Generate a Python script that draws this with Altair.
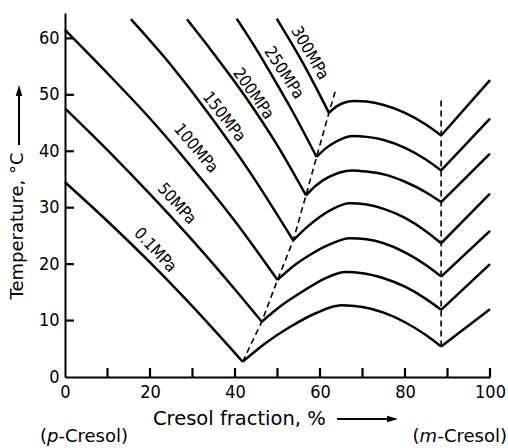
import altair as alt
import pandas as pd

labels = ["0.1MPa", "50MPa", "100MPa", "150MPa", "200MPa", "250MPa", "300MPa"]
left_x = [
    [0, 10, 20, 30, 41.8],
    [0, 10, 20, 30, 40, 46.3],
    [0, 10, 20, 30, 40, 50],
    [15.5, 25, 35, 43.5, 53.7],
    [28.7, 35, 42.7, 50, 56.7],
    [40.4, 45, 49.8, 53, 59.2],
    [49.8, 56, 62.1],
]
left_T = [
    [34.5, 27.6, 20.3, 12.5, 2.7],
    [47.6, 40.2, 32.4, 24.2, 15.5, 9.8],
    [61.5, 53.8, 45.8, 37.0, 27.6, 17.2],
    [63.4, 55.2, 45.4, 36.3, 24.2],
    [63.4, 57.3, 49.4, 41.0, 32.2],
    [63.5, 58.1, 52.0, 47.8, 39.0],
    [63.5, 55.6, 46.8],
]
mid_x = [
    [41.8, 47, 53, 59, 65, 70, 75, 80, 85, 88.5],
    [46.3, 51, 56, 61, 66, 70, 75, 80, 85, 88.5],
    [50, 54, 58, 62, 67, 71, 75, 80, 85, 88.5],
    [53.7, 57, 60, 63, 67, 71, 75, 80, 85, 88.5],
    [56.7, 59, 62, 67.5, 71, 75, 80, 85, 88.5],
    [59.2, 61.5, 64, 67.8, 71, 75, 80, 85, 88.5],
    [62.1, 64, 66, 68.2, 71, 75, 80, 85, 88.5],
]
mid_T = [
    [2.7, 5.9, 8.9, 11.3, 12.7, 12.4, 11.4, 9.7, 7.4, 5.4],
    [9.8, 12.7, 15.2, 17.4, 18.6, 18.4, 17.5, 16.0, 13.8, 11.9],
    [17.2, 19.8, 21.8, 23.4, 24.6, 24.4, 23.7, 22.1, 19.8, 17.8],
    [24.2, 26.6, 28.4, 29.8, 30.8, 30.55, 29.8, 28.2, 25.8, 23.7],
    [32.2, 33.9, 35.4, 36.6, 36.4, 35.9, 34.6, 32.7, 31.0],
    [39.0, 40.6, 41.8, 42.7, 42.55, 42.0, 40.6, 38.5, 36.6],
    [46.8, 48.0, 48.7, 48.9, 48.8, 48.2, 46.8, 44.7, 42.8],
]
right_x = [88.5, 100]
right_T = [
    [5.4, 12.0], [11.9, 20.0], [17.8, 25.9], [23.7, 32.5],
    [31.0, 39.6], [36.6, 45.8], [42.8, 52.6],
]
dash1_x = [41.8, 46.3, 50, 53.7, 56.7, 59.2, 62.1, 63.8]
dash1_T = [2.7, 9.8, 17.2, 24.2, 32.2, 39.0, 46.8, 51.2]
dash2_x = [88.5, 88.5]
dash2_T = [5.4, 49.0]

lab_x = [21.2, 26.3, 30.8, 37.4, 44.3, 51.5, 57.6]
lab_T = [22.5, 30.7, 40.5, 46.1, 50.2, 53.9, 57.4]
lab_angle = [47, 48, 50, 52, 55, 57, 60]

x_labels = [0, 20, 40, 60, 80, 100]
x_ticks = [10, 20, 30, 40, 50, 60, 70, 80, 90, 100]
y_ticks = [0, 10, 20, 30, 40, 50, 60]
y_inner_ticks = [10, 20, 30, 40, 50, 60]
x_tick_len = 1.6   # in °C units (~9 px)
y_tick_len = 2.1   # in % units (~9 px)

rows = []
for i, lab in enumerate(labels):
    for seg, (xx, tt) in enumerate([(left_x[i], left_T[i]), (mid_x[i], mid_T[i]), (right_x, right_T[i])]):
        for k, (a, b) in enumerate(zip(xx, tt)):
            rows.append({"curve": lab, "seg": f"{lab}-{seg}", "k": k, "x": a, "T": b})
curves = pd.DataFrame(rows)

dash = pd.DataFrame(
    [{"g": "a", "k": k, "x": a, "T": b} for k, (a, b) in enumerate(zip(dash1_x, dash1_T))]
    + [{"g": "b", "k": k, "x": a, "T": b} for k, (a, b) in enumerate(zip(dash2_x, dash2_T))]
)
tick_rows = []
for v in x_ticks:
    tick_rows += [{"g": f"x{v}", "k": 0, "x": v, "T": 0.0}, {"g": f"x{v}", "k": 1, "x": v, "T": x_tick_len}]
for v in y_inner_ticks:
    tick_rows += [{"g": f"y{v}", "k": 0, "x": 0.0, "T": v}, {"g": f"y{v}", "k": 1, "x": y_tick_len, "T": v}]
ticks = pd.DataFrame(tick_rows)
labdf = pd.DataFrame({"label": labels, "x": lab_x, "T": lab_T, "angle": lab_angle})

W, H = 425, 364
xs = alt.Scale(domain=[0, 100], nice=False, zero=False)
ys = alt.Scale(domain=[0, 64.5], nice=False, zero=False)

TICKF = "DejaVu Sans Condensed, sans-serif"
TITF = "DejaVu Sans, sans-serif"
LABF = "DejaVu Sans Condensed, DejaVu Sans, sans-serif"

x_main = alt.Axis(values=x_labels, ticks=False, grid=False, title=None, domainColor="black",
                  domainWidth=2, labelFont=TICKF, labelFontSize=18, labelColor="black",
                  labelPadding=6, labelFlush=False)
y_main = alt.Axis(values=y_ticks, ticks=False, grid=False, title=None, domainColor="black",
                  domainWidth=2, labelFont=TICKF, labelFontSize=18, labelColor="black",
                  labelPadding=6)

lines = alt.Chart(curves).mark_line(color="black", strokeWidth=2.5, interpolate="monotone").encode(
    x=alt.X("x:Q", scale=xs, axis=x_main),
    y=alt.Y("T:Q", scale=ys, axis=y_main),
    detail="seg:N",
    order="k:Q",
)

dashed = alt.Chart(dash).mark_line(color="black", strokeWidth=1.6, strokeDash=[6, 4]).encode(
    x=alt.X("x:Q", scale=xs),
    y=alt.Y("T:Q", scale=ys),
    detail="g:N",
    order="k:Q",
)

tickmarks = alt.Chart(ticks).mark_line(color="black", strokeWidth=2.2, interpolate="linear").encode(
    x=alt.X("x:Q", scale=xs),
    y=alt.Y("T:Q", scale=ys),
    detail="g:N",
    order="k:Q",
)

texts = alt.Chart(labdf).mark_text(font=LABF, fontSize=16.5, color="black", align="center",
                                   baseline="middle").encode(
    x=alt.X("x:Q", scale=xs),
    y=alt.Y("T:Q", scale=ys),
    text="label:N",
    angle=alt.Angle("angle:Q", scale=None),
)

one = pd.DataFrame({"d": [0]})


def txt(s, x, y, size=18, align="left", angle=0, style="normal", font=TITF):
    return alt.Chart(one).mark_text(text=s, font=font, fontSize=size, align=align, baseline="middle",
                                    angle=angle, fontStyle=style, color="black").encode(
        x=alt.value(x), y=alt.value(y))


arrow_shape_r = "M-1,-0.6L1,0L-1,0.6Z"
arrow_shape_u = "M-0.6,1L0,-1L0.6,1Z"

xtitle = txt("Cresol fraction, %", 88, 406, size=19.5)
xarrow = alt.Chart(one).mark_rule(color="black", strokeWidth=2).encode(
    x=alt.value(272), x2=alt.value(324), y=alt.value(406))
xhead = alt.Chart(one).mark_point(shape=arrow_shape_r, filled=True, color="black", size=121, opacity=1).encode(
    x=alt.value(327.5), y=alt.value(406))

ytitle = txt("Temperature, °C", -47, 213, size=18, align="center", angle=270)
yarrow = alt.Chart(one).mark_rule(color="black", strokeWidth=2).encode(
    x=alt.value(-46), y=alt.value(132), y2=alt.value(80))
yhead = alt.Chart(one).mark_point(shape=arrow_shape_u, filled=True, color="black", size=121, opacity=1).encode(
    x=alt.value(-46), y=alt.value(77.5))

BY = 424
p1 = txt("(", -25, BY)
p2 = txt("p", -18, BY, style="italic")
p3 = txt("-Cresol)", -6.6, BY)
m3 = txt("-Cresol)", 442, BY, align="right")
m2 = txt("m", 372, BY, align="right", style="italic")
m1 = txt("(", 354.5, BY, align="right")

chart = alt.layer(
    lines, dashed, tickmarks, texts, xtitle, xarrow, xhead, ytitle, yarrow, yhead,
    p1, p2, p3, m1, m2, m3
).properties(
    width=W, height=H,
    autosize=alt.AutoSizeParams(type="none"),
    padding={"left": 65, "top": 13, "right": 18, "bottom": 71},
    background="white",
).configure_view(stroke=None)

chart.save("out.html", embed_options={"renderer": "svg", "actions": False})
